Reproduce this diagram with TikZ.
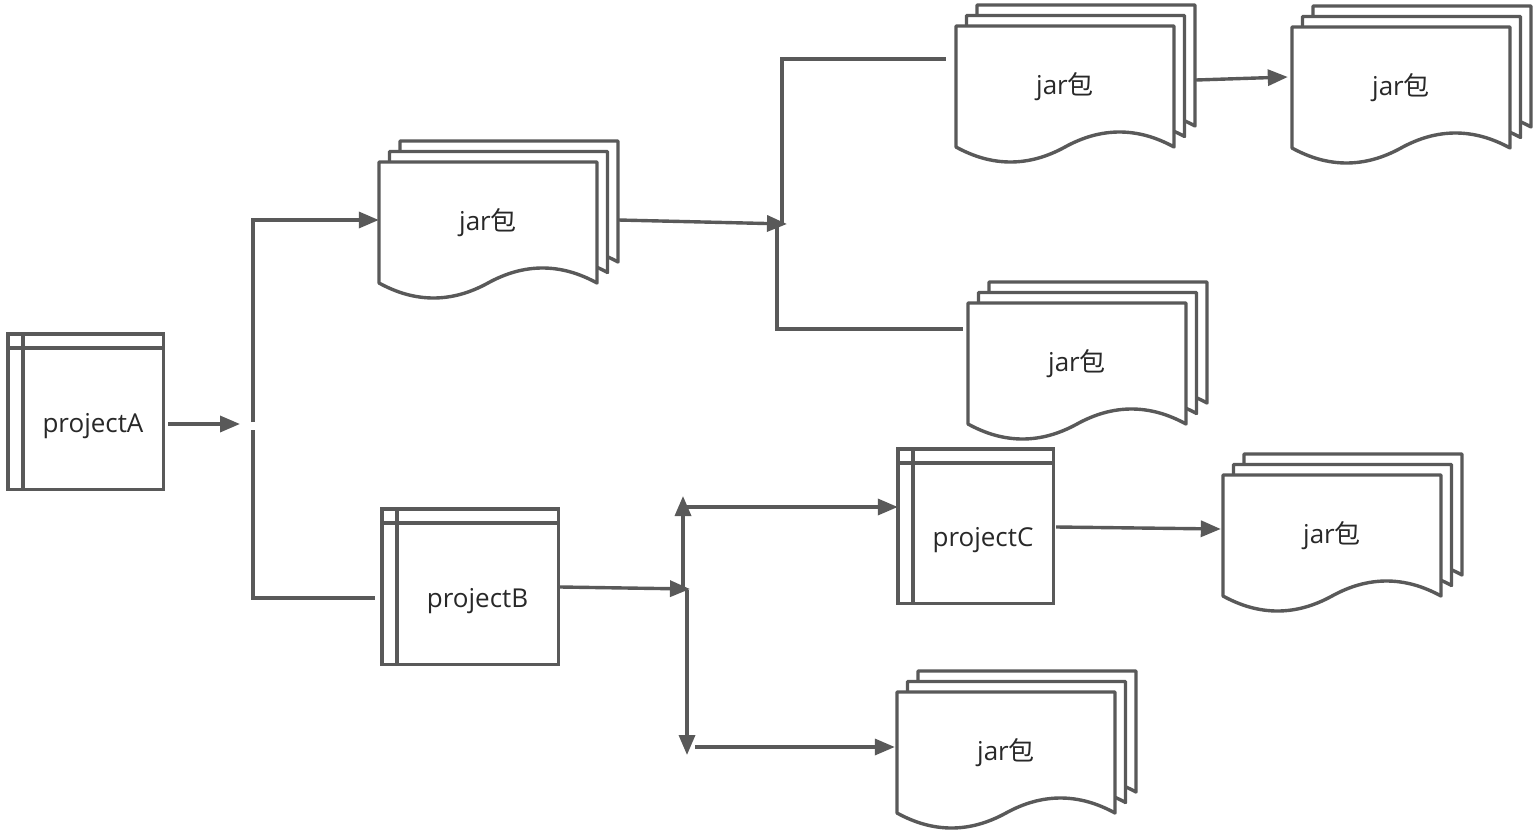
\documentclass[tikz,border=0pt]{standalone}
\usepackage{fontspec}
\setmainfont{Open Sans}
\newfontfamily\cjk{Noto Sans CJK SC}
\usetikzlibrary{arrows.meta,calc}
\definecolor{lc}{RGB}{89,89,89}
\definecolor{tc}{RGB}{40,40,40}
\tikzset{
  ln/.style={draw=lc, line width=3.4pt},
  arr/.style={ln, -{Triangle[length=20pt,width=16pt]}},
  page/.style={draw=lc, fill=white, line width=3.4pt, line join=round},
  frame/.style={draw=lc, line width=3.4pt},
  lbl/.style={inner sep=0pt, text=tc, font=\fontsize{26pt}{31pt}\selectfont},
  projlbl/.style={lbl, text height=33pt, text depth=6pt},
  docnode/.style={lbl, minimum width=218pt, minimum height=121pt},
}
\newcommand\multidoc[3]{%
 \begin{scope}[shift={(#2,#3)}]
  \foreach \o in {21,10.5,0}{
   \draw[page, shift={(\o,-\o)}] (0,121) -- (0,0) -- (218,0) -- (218,121)
     .. controls (181.7,101) and (145.3,101) .. (109,121)
     .. controls (72.7,141) and (36.3,141) .. (0,121) -- cycle;
  }
  \node[docnode] (#1) at (109,60.5) {jar{\cjk 包}};
 \end{scope}}
\newcommand\projbox[5]{%
 \node[projlbl, minimum width=#3pt, minimum height=#4pt] (#1) at #2 {#5};
 \draw[frame] ([shift={(-15pt,14pt)}]#1.north west) rectangle (#1.south east);
 \draw[frame] ([yshift=14pt]#1.north west) -- (#1.south west);
 \draw[frame] ([xshift=-15pt]#1.north west) -- (#1.north east);
}
\begin{document}
\begin{tikzpicture}[x=1pt,y=-1pt]
\useasboundingbox[fill=white] (0,0) rectangle (1536,832);

% shapes
\projbox{pA}{(93,418.5)}{140}{141}{projectA}
\projbox{pB}{(477.5,593.5)}{161}{141}{projectB}
\projbox{pC}{(983,533)}{140}{140}{projectC}
\multidoc{j1}{379}{162}
\multidoc{j2}{956}{26}
\multidoc{j3}{1292}{27}
\multidoc{j4}{968}{303}
\multidoc{j5}{1223}{475}
\multidoc{j6}{897}{692}

% junction coordinates
\coordinate (jA) at (240,424);
\coordinate (bA1) at (253,422);
\coordinate (bA2) at (253,430);
\coordinate (eB) at (375,598);
\coordinate (jJ1) at (787,224);
\coordinate (t1) at (782,224);
\coordinate (t2) at (777,225);
\coordinate (e2) at (946,59);
\coordinate (e4) at (963,329);
\coordinate (jB) at (690,589);
\coordinate (bB1) at (683,590);
\coordinate (uB) at (683,496);
\coordinate (hB1) at (683,507);
\coordinate (bB2) at (687,590);
\coordinate (dB) at (687,755);
\coordinate (hB2) at (695,747);

% connectors
\draw[arr] ([xshift=5pt]pA.east |- jA) -- (jA);
\draw[arr] (bA1) |- ([yshift=2.5pt]j1.west);
\draw[ln] (bA2) |- (eB);
\draw[arr] ([xshift=21pt,yshift=2.5pt]j1.east) -- (jJ1);
\draw[ln] (t1) |- (e2);
\draw[ln] (t2) |- (e4);
\draw[arr] ([xshift=22pt,yshift=6.5pt]j2.east) -- ([xshift=-4pt,yshift=10.5pt]j3.west);
\draw[arr] ([xshift=2pt,yshift=6.5pt]pB.east) -- (jB);
\draw[arr] (bB1) -- (uB);
\draw[arr] (hB1) -- ([xshift=-15pt]pC.west |- hB1);
\draw[arr] (bB2) -- (dB);
\draw[arr] (hB2) -- ([xshift=-2pt]j6.west |- hB2);
\draw[arr] ([xshift=3pt,yshift=6pt]pC.east) -- ([xshift=-2pt,yshift=6.5pt]j5.west);
\end{tikzpicture}
\end{document}
